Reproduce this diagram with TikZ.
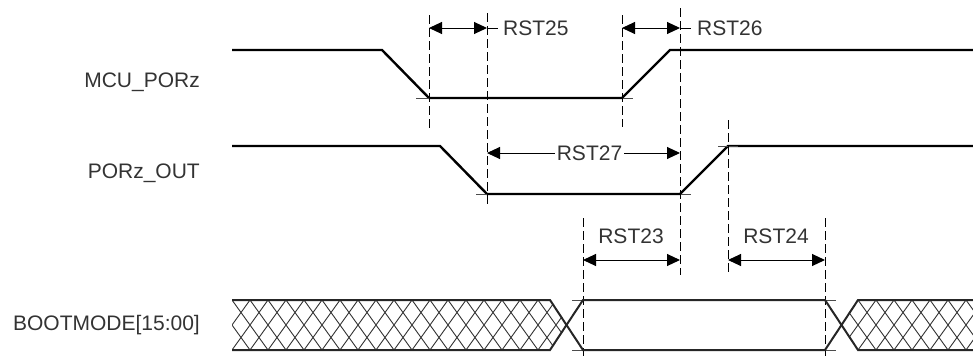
\documentclass[tikz,border=0pt]{standalone}
\usepackage{fontspec}
\setmainfont{Liberation Sans}
\usetikzlibrary{arrows.meta}
\begin{document}
\begin{tikzpicture}[x=1pt,y=-1pt,
 sig/.style={line width=2.4pt, line join=miter},
 dimline/.style={line width=0.9pt, dash pattern=on 9pt off 4pt},
 ticks/.style={line width=0.6pt, draw=black!70},
 meas/.style={line width=1pt, {Triangle[length=13pt,width=12pt]}-{Triangle[length=13pt,width=12pt]}},
 measl/.style={line width=1pt, {Triangle[length=13pt,width=12pt]}-},
 measr/.style={line width=1pt, -{Triangle[length=13pt,width=12pt]}},
 lab/.style={text=black!80, font=\fontsize{21}{24}\selectfont, inner sep=0pt},
 hatch/.style={line width=0.9pt, draw=black!80},
 bus/.style={line width=2pt, draw=black!85}]
\useasboundingbox (0,0) rectangle (973,356);

% signal names
\node[lab, anchor=base east] (n1) at (200,87) {MCU\_PORz};
\node[lab, anchor=base east] (n2) at (200,178) {PORz\_OUT};
\node[lab, anchor=base east] (n3) at (200,330) {BOOTMODE[15:00]};

% signals
\draw[sig] (232,50) -- (382,50) -- (429,98) -- (622,98) -- (670,50) -- (973,50);
\draw[sig] (232,146) -- (440,146) -- (487,194) -- (680,194) -- (728,146) -- (973,146);

% corner ticks
\draw[ticks] (416,98) -- (429,98);
\draw[ticks] (622,98) -- (633,98);
\draw[ticks] (476,194) -- (487,194);
\draw[ticks] (680,194) -- (691,194);
\draw[ticks] (718,146) -- (738,146);
\draw[ticks] (572,300) -- (583,300);
\draw[ticks] (572,350) -- (583,350);
\draw[ticks] (825,300) -- (836,300);
\draw[ticks] (825,350) -- (836,350);

% dashed reference lines
\coordinate (d1t) at (429,15);  \coordinate (d1b) at (429,128);
\coordinate (d2t) at (487,13);  \coordinate (d2b) at (487,205);
\coordinate (d3t) at (622,15);  \coordinate (d3b) at (622,127);
\coordinate (d4t) at (680,8);   \coordinate (d4b) at (680,275);
\coordinate (d5t) at (728,120); \coordinate (d5b) at (728,275);
\coordinate (d6t) at (583,218); \coordinate (d6b) at (583,356);
\coordinate (d7t) at (825,218); \coordinate (d7b) at (825,356);
\foreach \k in {1,...,7} { \draw[dimline] (d\k t) -- (d\k b); }

% RST25
\node[lab, anchor=base west] (r25) at (503,35) {RST25};
\coordinate (a25l) at (429,28); \coordinate (a25r) at (487,28);
\draw[meas] (a25l) -- (a25r);
\draw[line width=1pt] (a25r) -- ([xshift=-5pt]r25.west |- a25r);

% RST26
\node[lab, anchor=base west] (r26) at (697,35) {RST26};
\coordinate (a26l) at (622,28); \coordinate (a26r) at (680,28);
\draw[meas] (a26l) -- (a26r);
\draw[line width=1pt] (a26r) -- ([xshift=-6pt]r26.west |- a26r);

% RST27
\node[lab, anchor=base, inner xsep=2pt] (r27) at (589.5,160) {RST27};
\coordinate (a27l) at (487,153); \coordinate (a27r) at (680,153);
\draw[measl] (a27l) -- (r27.west |- a27l);
\draw[measr] (r27.east |- a27r) -- (a27r);

% RST23
\node[lab, anchor=base] (r23) at (631,243) {RST23};
\coordinate (a23l) at (583,260); \coordinate (a23r) at (680,260);
\draw[meas] (a23l) -- (a23r);

% RST24
\node[lab, anchor=base] (r24) at (776,243) {RST24};
\coordinate (a24l) at (728,260); \coordinate (a24r) at (825,260);
\draw[meas] (a24l) -- (a24r);

% hatched (invalid) bus regions
\begin{scope}
\clip (232,300) -- (550,300) -- (566.5,325) -- (550,350) -- (232,350) -- cycle;
\foreach \i in {-3,...,22} {
  \draw[hatch] (232+18*\i,300) -- ++(36,50);
  \draw[hatch] (232+18*\i,300) -- ++(-36,50);
}
\end{scope}
\begin{scope}
\clip (841.5,325) -- (858,300) -- (973,300) -- (973,350) -- (858,350) -- cycle;
\foreach \i in {-3,...,10} {
  \draw[hatch] (840+18*\i,300) -- ++(36,50);
  \draw[hatch] (840+18*\i,300) -- ++(-36,50);
}
\end{scope}

% bus outlines
\draw[bus] (232,300) -- (550,300) -- (583,350) -- (825,350) -- (858,300) -- (973,300);
\draw[bus] (232,350) -- (550,350) -- (583,300) -- (825,300) -- (858,350) -- (973,350);
\end{tikzpicture}
\end{document}
